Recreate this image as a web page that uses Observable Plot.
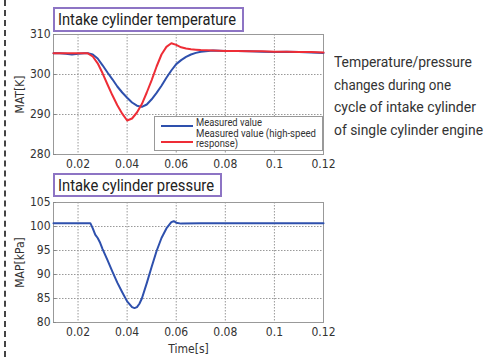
<!DOCTYPE html>
<html>
<head>
<meta charset="utf-8">
<script src="https://cdn.jsdelivr.net/npm/d3@7"></script>
<script src="https://cdn.jsdelivr.net/npm/@observablehq/plot@0.6"></script>
<style>
  html, body { margin:0; padding:0; background:#fff; }
  #page { position:relative; width:484px; height:357px; overflow:hidden; background:#fff;
    font-family:"Roboto","DejaVu Sans Condensed",sans-serif; color:#333; }
  .abs { position:absolute; }
  .fit { display:inline-block; transform-origin:0 50%; white-space:nowrap; }
  .title { position:absolute; box-sizing:border-box; border:2px solid #8d74c4; background:#fff;
    font-size:17px; line-height:20px; padding:0 3px; color:#222; white-space:nowrap; overflow:hidden; }
  .vline { position:absolute; left:4px; top:0; width:0; height:357px; border-left:2px dashed #444; }
  .side { position:absolute; left:334px; top:51px; font-size:15px; line-height:22.5px; color:#333; white-space:nowrap; }
  .legend { position:absolute; box-sizing:border-box; left:154px; top:116px; width:169px; height:35px;
    border:1px solid #999; background:#fff; font-size:10px; line-height:10px; color:#333; }
  .legend .ln { position:absolute; left:6px; width:32px; height:0; border-top:2.5px solid; }
  .legend .tx { position:absolute; left:41px; white-space:nowrap; }
</style>
</head>
<body>
<div id="page">
  <div class="vline"></div>
  <div id="chartTop" class="abs" style="left:0;top:0"></div>
  <div id="chartBot" class="abs" style="left:0;top:180px"></div>
  <div class="title" style="left:53px;top:7px;width:191px;height:25px"><span class="fit" data-w="178">Intake cylinder temperature</span></div>
  <div class="title" style="left:53px;top:173px;width:169px;height:24px"><span class="fit" data-w="156">Intake cylinder pressure</span></div>
  <div class="legend">
    <div class="ln" style="top:8px;border-color:#2e50ad"></div>
    <div class="tx" style="top:1px"><span class="fit" data-w="66">Measured value</span></div>
    <div class="ln" style="top:24px;border-color:#ee2d36"></div>
    <div class="tx" style="top:12px"><span class="fit" data-w="120">Measured value (high-speed</span></div>
    <div class="tx" style="top:22px"><span class="fit" data-w="42">response)</span></div>
  </div>
  <div class="side">
    <span class="fit" data-w="138">Temperature/pressure</span><br>
    <span class="fit" data-w="117">changes during one</span><br>
    <span class="fit" data-w="142">cycle of intake cylinder</span><br>
    <span class="fit" data-w="149">of single cylinder engine</span>
  </div>
</div>
<script>
// ---- data ----
const tempTime = [0.010,0.0125,0.015,0.0175,0.020,0.0225,0.024,0.026,0.028,0.030,0.032,0.034,0.036,0.038,0.040,0.042,0.044,0.046,0.048,0.050,0.052,0.054,0.056,0.058,0.060,0.062,0.064,0.066,0.068,0.070,0.075,0.080,0.085,0.090,0.095,0.100,0.105,0.110,0.115,0.120];
const tempMeasured = [305.3,305.3,305.2,305.0,305.2,305.3,305.3,305.0,304.0,302.3,300.5,298.8,297.0,295.5,294.2,293.0,292.2,291.9,292.5,293.8,295.4,297.2,299.2,301.0,302.6,303.6,304.4,305.0,305.4,305.7,306.0,305.9,305.9,305.8,305.7,305.6,305.7,305.6,305.5,305.4];
const tempHighSpeed = [305.3,305.3,305.3,305.3,305.3,305.3,305.3,304.5,302.8,300.3,297.5,294.8,292.3,290.2,288.5,289.0,290.5,292.6,295.5,298.6,302.0,305.0,306.9,307.8,307.4,306.8,306.5,306.3,306.2,306.1,306.0,305.9,305.9,305.8,305.8,305.7,305.7,305.6,305.6,305.5];
const presTime = [0.010,0.015,0.020,0.025,0.026,0.027,0.028,0.029,0.030,0.032,0.034,0.036,0.038,0.040,0.042,0.043,0.044,0.045,0.046,0.048,0.050,0.052,0.054,0.056,0.058,0.059,0.060,0.062,0.070,0.080,0.090,0.100,0.110,0.120];
const presMeasured = [100.7,100.7,100.7,100.7,99.6,98.3,97.6,96.6,95.3,93.0,90.6,88.3,86.3,84.4,83.2,83.0,83.2,83.9,85.0,88.2,91.6,94.9,97.6,99.6,100.9,101.1,100.8,100.6,100.7,100.7,100.7,100.7,100.7,100.7];
const xTicks = [0.02,0.04,0.06,0.08,0.1,0.12];
const xGrid = [0.02,0.04,0.06,0.08,0.1];
const tempTicks = [280,290,300,310];
const tempGrid = [290,300];
const presTicks = [80,85,90,95,100,105];
const presGrid = [85,90,95,100];

const font = '"DejaVu Sans Condensed","Roboto",sans-serif';
const blue = "#2e50ad", red = "#ee2d36";
const tempData = tempTime.map((t,i)=>({t, m:tempMeasured[i], h:tempHighSpeed[i]}));
const presData = presTime.map((t,i)=>({t, p:presMeasured[i]}));
const fmt = d => String(+d.toFixed(2));

function common(h, mt, mb) {
  return { width:484, height:h, marginLeft:53, marginRight:161, marginTop:mt, marginBottom:mb,
    style:{fontFamily:font, fontSize:"12px", color:"#333", background:"transparent", overflow:"visible"} };
}

const chartA = Plot.plot({
  ...common(170, 34, 16),
  x:{domain:[0.01,0.12]},
  y:{domain:[280,310]},
  marks:[
    Plot.ruleX(xGrid, {stroke:"#999", strokeDasharray:"1.5,1.5"}),
    Plot.ruleY(tempGrid, {stroke:"#999", strokeDasharray:"1.5,1.5"}),
    Plot.frame({stroke:"#999"}),
    Plot.axisX({ticks:xTicks, tickSize:0, tickPadding:5, tickFormat:fmt, label:null}),
    Plot.axisY({ticks:tempTicks, tickSize:-3, tickPadding:6, stroke:"#888", label:"MAT[K]", labelAnchor:"center", labelArrow:"none", labelOffset:38, fontSize:12}),
    Plot.line(tempData, {x:"t", y:"m", stroke:blue, strokeWidth:2}),
    Plot.line(tempData, {x:"t", y:"h", stroke:red, strokeWidth:2})
  ]
});
document.getElementById("chartTop").append(chartA);

const chartB = Plot.plot({
  ...common(175, 22, 33),
  x:{domain:[0.01,0.12]},
  y:{domain:[80,105]},
  marks:[
    Plot.ruleX(xGrid, {stroke:"#999", strokeDasharray:"1.5,1.5"}),
    Plot.ruleY(presGrid, {stroke:"#999", strokeDasharray:"1.5,1.5"}),
    Plot.frame({stroke:"#999"}),
    Plot.axisX({ticks:xTicks, tickSize:0, tickPadding:5, tickFormat:fmt, label:"Time[s]", labelAnchor:"center", labelArrow:"none", labelOffset:30, fontSize:12}),
    Plot.axisY({ticks:presTicks, tickSize:-3, tickPadding:6, stroke:"#888", label:"MAP[kPa]", labelAnchor:"center", labelArrow:"none", labelOffset:38, fontSize:12}),
    Plot.line(presData, {x:"t", y:"p", stroke:blue, strokeWidth:2})
  ]
});
document.getElementById("chartBot").append(chartB);

// fit text widths
document.querySelectorAll(".fit").forEach(el => {
  const w = el.getBoundingClientRect().width;
  const target = +el.dataset.w;
  if (w > 0) el.style.transform = `scaleX(${target / w})`;
});
</script>
</body>
</html>
